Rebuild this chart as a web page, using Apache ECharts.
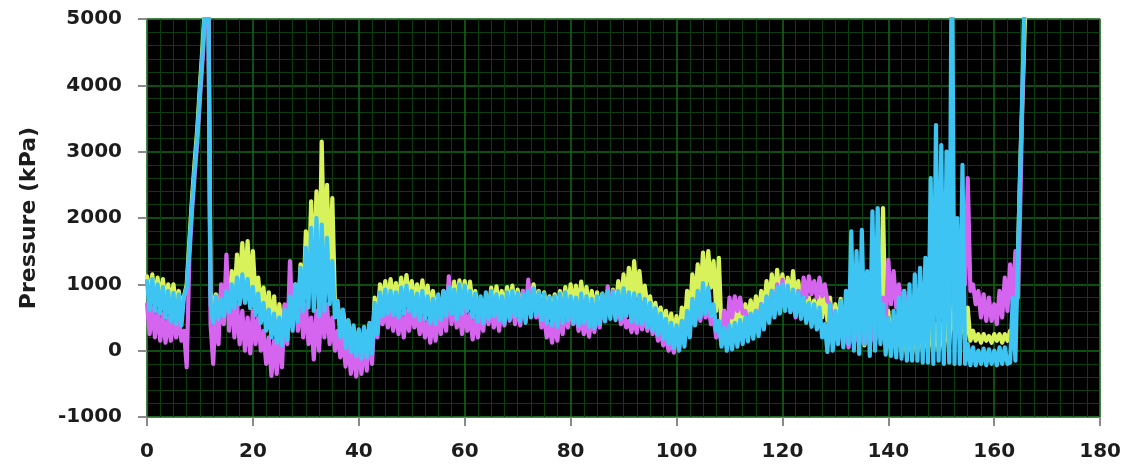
<!DOCTYPE html>
<html>
<head>
<meta charset="utf-8">
<title>Pressure trace</title>
<script src="https://cdn.jsdelivr.net/npm/echarts@6/dist/echarts.min.js"></script>
<style>
  html, body { margin: 0; padding: 0; background: #ffffff; }
  #chart { width: 1124px; height: 466px; }
</style>
</head>
<body>
<div id="chart"></div>
<script>
// Sample spacing of the recorded traces along the x axis
const STEP = 0.5;

// Axis ticks
const xTicks = [0, 20, 40, 60, 80, 100, 120, 140, 160, 180];
const yTicks = [-1000, 0, 1000, 2000, 3000, 4000, 5000];

// Pressure traces (kPa), one value every STEP
const yellowTrace = [
  1120,800, 1150,780, 1100,760, 1080,720, 1000,700, 1000,680, 900,640, 820,1000, 1650,2300, 2850,3350,
  4000,4600, 5300,6500, 900,600, 850,640, 880,620, 1000,700, 1200,800, 1450,900, 1620,1000, 1650,900,
  1500,800, 1100,650, 950,500, 880,400, 820,300, 700,250, 680,300, 800,400, 1000,500, 1300,700,
  1800,900, 2250,1000, 2400,900, 3150,1200, 2500,1100, 2300,700, 700,400, 600,300, 450,150, 350,0,
  300,-50, 320,-40, 380,0, 800,400, 1000,700, 1050,720, 1080,750, 1020,700, 1100,760, 1140,780,
  1050,720, 1000,680, 1060,700, 980,640, 900,600, 760,560, 900,600, 1000,680, 1040,700, 1060,720,
  1050,700, 1040,680, 900,620, 700,520, 800,560, 950,640, 970,660, 900,620, 960,640, 980,660,
  920,620, 900,600, 960,660, 1000,700, 900,600, 880,580, 820,520, 850,540, 900,600, 960,620,
  1000,660, 980,640, 1040,680, 960,620, 900,560, 880,540, 860,520, 880,560, 920,600, 1050,680,
  1150,720, 1250,780, 1350,820, 1200,760, 980,680, 820,560, 720,460, 650,380, 600,300, 560,220,
  520,180, 650,300, 900,520, 1150,700, 1300,800, 1480,900, 1500,950, 1350,600, 1400,300, 600,200,
  620,300, 650,400, 680,420, 700,460, 760,500, 820,540, 900,600, 1050,700, 1150,780, 1220,820,
  1150,780, 1100,740, 1200,760, 1050,700, 900,620, 800,560, 760,520, 820,500, 870,450, 800,300,
  700,350, 780,300, 650,200, 600,150, 500,100, 450,80, 500,100, 600,150, 700,300, 2150,200,
  600,100, 400,50, 350,0, 300,-50, 300,-50, 300,0, 300,0, 300,0, 400,0, 400,0,
  400,0, 500,100, 800,300, 1250,200, 700,150, 650,150, 300,150, 250,120, 250,150, 220,120,
  250,150, 250,120, 250,150, 300,150, 400,1500, 3000,4200, 5500,7000
];

const magentaTrace = [
  700,250, 650,200, 600,150, 550,120, 500,150, 550,200, 500,150, 300,-250, 1400,2100, 2650,3150,
  3800,4400, 5100,6400, 400,-200, 700,100, 1000,400, 1450,300, 900,200, 700,100, 600,0, 500,-40,
  600,100, 500,0, 300,-200, 200,-380, 150,-350, 300,-250, 700,100, 1350,400, 900,300, 800,200,
  700,100, 500,-130, 600,0, 800,200, 700,100, 500,0, 300,-100, 200,-240, 100,-350, 50,-390,
  100,-350, 150,-300, 300,-200, 600,200, 700,400, 650,350, 600,300, 620,250, 560,200, 600,300,
  650,350, 560,250, 500,200, 450,120, 500,150, 600,250, 700,300, 1120,400, 700,350, 600,250,
  650,300, 550,170, 500,200, 600,300, 700,400, 650,350, 600,300, 700,380, 800,450, 750,400,
  700,380, 900,500, 1070,600, 900,500, 700,350, 500,200, 400,120, 450,150, 600,250, 650,350,
  700,400, 600,300, 500,250, 450,210, 550,280, 650,350, 800,450, 970,550, 900,500, 700,400,
  600,350, 450,280, 500,270, 600,320, 550,300, 500,250, 400,150, 300,80, 200,0, 150,-30,
  300,50, 400,200, 500,350, 600,400, 700,450, 800,500, 700,400, 500,200, 400,100, 600,200,
  800,500, 820,600, 800,560, 600,400, 550,300, 600,350, 700,400, 800,500, 900,550, 1000,600,
  1070,650, 900,600, 800,500, 900,600, 1100,800, 1120,850, 1050,800, 1100,820, 1000,750, 700,400,
  500,200, 400,100, 350,50, 400,100, 400,100, 400,100, 400,100, 400,100, 500,200, 800,400,
  1370,700, 1200,650, 1000,600, 900,500, 800,400, 700,350, 800,400, 900,500, 1000,600, 1000,600,
  1000,600, 1000,600, 1200,700, 1900,1100, 1500,1000, 2600,900, 1000,700, 900,500, 850,450, 800,450,
  700,400, 900,500, 1100,600, 1300,700, 1500,800, 2500,4500, 6500
];

const cyanTrace = [
  1050,620, 1080,600, 1000,560, 960,500, 900,440, 870,400, 850,380, 820,950, 1550,2200, 2750,3250,
  3900,4500, 5200,6500, 700,420, 820,480, 780,520, 900,580, 1000,640, 1100,700, 1150,720, 1080,640,
  960,540, 860,420, 720,300, 620,200, 560,120, 500,80, 620,160, 820,300, 1000,440, 1250,600,
  1550,650, 1850,600, 2000,520, 1900,600, 1700,700, 1350,500, 750,200, 620,40, 460,-20, 380,-80,
  320,-120, 360,-100, 420,-40, 720,250, 880,520, 920,560, 900,540, 880,500, 950,560, 980,600,
  900,520, 860,460, 900,480, 820,420, 780,400, 850,460, 900,520, 960,560, 920,480, 1000,560,
  980,600, 900,500, 860,440, 820,420, 880,480, 900,520, 850,460, 820,420, 880,480, 900,520,
  870,450, 850,420, 900,500, 940,540, 880,460, 860,420, 800,380, 820,360, 860,420, 880,460,
  820,420, 800,380, 860,420, 820,360, 780,340, 820,400, 860,440, 900,480, 880,460, 900,480,
  940,520, 880,440, 860,420, 840,400, 780,360, 720,300, 640,240, 560,180, 480,100, 420,40,
  380,0, 450,60, 600,200, 780,380, 900,500, 1020,560, 950,520, 700,300, 450,60, 350,0,
  380,20, 420,60, 460,100, 500,140, 560,180, 600,220, 700,320, 820,420, 900,500, 960,560,
  1000,600, 980,580, 920,520, 880,480, 800,420, 720,360, 700,320, 650,200, 400,-20, 700,0,
  600,100, 750,50, 900,100, 1800,0, 1500,-50, 1820,100, 1200,-80, 2100,0, 2150,100, 700,-60,
  500,-80, 600,-100, 800,-120, 900,-150, 1000,-150, 1150,-150, 1250,-180, 1400,-180, 2600,-200, 3400,-150,
  3100,-200, 3000,-180, 6500,-200, 2000,-200, 2800,-200, 100,-220, 50,-220, 0,-200, 30,-220, 20,-200,
  0,-220, 50,-200, 50,-200, -180,800, -150,1500, 3000,4500, 6500
];

const traces = [
  { name: 'Channel 1', color: '#d8f25c', values: yellowTrace },
  { name: 'Channel 2', color: '#d564ef', values: magentaTrace },
  { name: 'Channel 3', color: '#3dc4f3', values: cyanTrace }
];

const chart = echarts.init(document.getElementById('chart'), null, { renderer: 'canvas' });

const labelFont = {
  fontFamily: 'DejaVu Sans, Verdana, sans-serif',
  fontWeight: 'bold',
  fontSize: 20,
  color: '#1c1c1c'
};

chart.setOption({
  animation: false,
  backgroundColor: '#ffffff',
  grid: {
    left: 147, right: 20, top: 19, bottom: 49,
    show: true,
    backgroundColor: '#000000',
    borderColor: '#b8b8b8',
    borderWidth: 1
  },
  xAxis: {
    type: 'value',
    min: xTicks[0],
    max: xTicks[xTicks.length - 1],
    interval: xTicks[1] - xTicks[0],
    axisLine: { show: false, onZero: false },
    axisTick: { show: true, length: 9, lineStyle: { color: '#8a8a8a', width: 2 } },
    axisLabel: Object.assign({ margin: 25, formatter: v => String(v) }, labelFont),
    splitLine: { show: true, lineStyle: { color: '#106a14', width: 1.5 } },
    minorTick: { show: false, splitNumber: 8 },
    minorSplitLine: { show: true, lineStyle: { color: '#093f0c', width: 1 } }
  },
  yAxis: {
    type: 'value',
    min: yTicks[0],
    max: yTicks[yTicks.length - 1],
    interval: yTicks[1] - yTicks[0],
    name: 'Pressure (kPa)',
    nameLocation: 'middle',
    nameGap: 107,
    nameTextStyle: {
      fontFamily: 'DejaVu Sans, Verdana, sans-serif',
      fontWeight: 'bold',
      fontSize: 22,
      color: '#1c1c1c'
    },
    axisLine: { show: false, onZero: false },
    axisTick: { show: true, length: 9, lineStyle: { color: '#8a8a8a', width: 2 } },
    axisLabel: Object.assign({ margin: 25, formatter: v => String(v) }, labelFont),
    splitLine: { show: true, lineStyle: { color: '#106a14', width: 1.5 } },
    minorTick: { show: false, splitNumber: 5 },
    minorSplitLine: { show: true, lineStyle: { color: '#093f0c', width: 1 } }
  },
  series: traces.map(t => ({
    name: t.name,
    type: 'line',
    showSymbol: false,
    symbol: 'none',
    clip: true,
    smooth: false,
    lineStyle: { color: t.color, width: 4.2, join: 'round', cap: 'round' },
    itemStyle: { color: t.color },
    data: t.values.map((v, i) => [i * STEP, v])
  }))
});
</script>
</body>
</html>
